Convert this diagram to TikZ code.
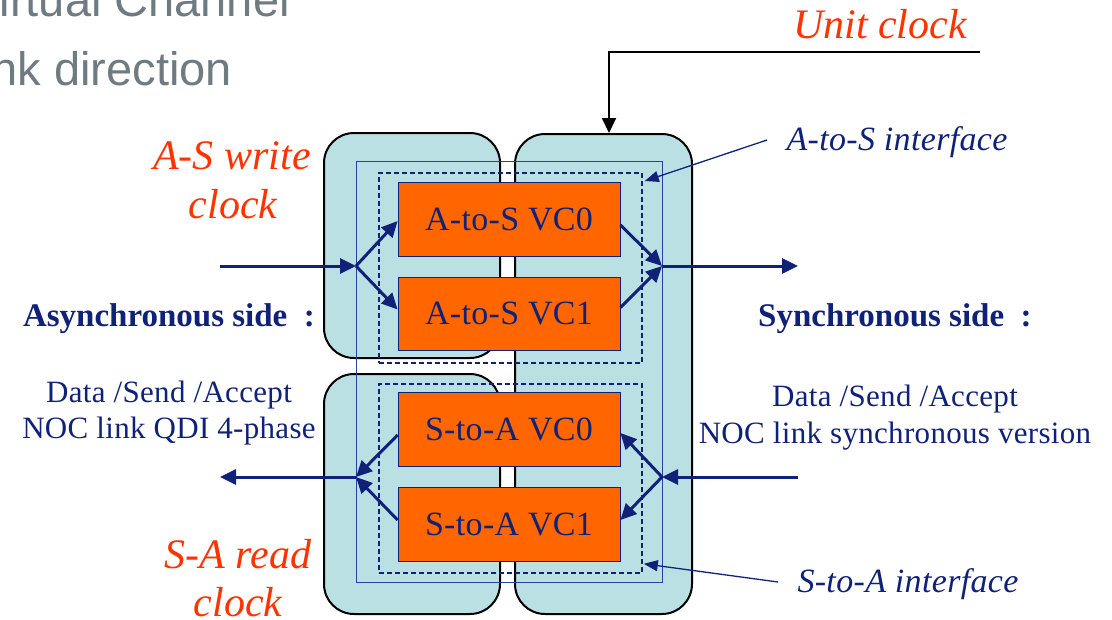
\documentclass[tikz,border=0pt]{standalone}
\usepackage{fontspec}
\setmainfont{Liberation Serif}
\newfontfamily\gsans{Liberation Sans}
\newfontfamily\lsp[LetterSpace=1]{Liberation Serif}
\usetikzlibrary{arrows.meta}
\definecolor{navy}{RGB}{16,34,120}
\definecolor{lblue}{RGB}{187,224,228}
\definecolor{vcorange}{RGB}{255,102,0}
\definecolor{clkred}{RGB}{255,51,0}
\definecolor{ttlgray}{RGB}{110,123,128}
\definecolor{thinblue}{RGB}{40,64,160}
\begin{document}
\begin{tikzpicture}[x=1pt,y=-1pt,
  clkdom/.style={draw=black,line width=2pt,fill=lblue,rounded corners=30pt,inner sep=0pt,anchor=north west},
  vcbox/.style={draw=navy,line width=0.8pt,fill=vcorange,text=navy,minimum width=222pt,inner sep=0pt,font=\lsp\fontsize{34}{34}\selectfont},
  dashbox/.style={draw=navy,line width=1.8pt,dash pattern=on 5pt off 3pt,inner sep=0pt,anchor=north west,minimum width=263pt},
  flow/.style={draw=navy,line width=3pt,-{Triangle[length=16pt,width=15pt]}},
  ptr/.style={draw=navy,line width=1.3pt,-{Triangle[length=14pt,width=11pt]}},
  clk/.style={draw=black,line width=2pt,-{Triangle[length=15pt,width=14pt]}},
  clklbl/.style={text=clkred,font=\itshape\fontsize{42}{46}\selectfont,align=center,inner sep=0pt},
  sidelbl/.style={text=navy,font=\bfseries\fontsize{33}{33}\selectfont,inner sep=0pt,anchor=base},
  linklbl/.style={text=navy,font=\lsp\fontsize{31}{36}\selectfont,align=center,inner sep=0pt},
  ifacelbl/.style={text=navy,font=\lsp\itshape\fontsize{34}{34}\selectfont,inner sep=0pt,anchor=base},
  ttl/.style={text=ttlgray,font=\gsans\fontsize{47}{47}\selectfont,inner sep=0pt}]
\useasboundingbox (0,0) rectangle (1112,619);
\clip (0,0) rectangle (1112,619);

% title fragments
\node[ttl,anchor=base east] (ttlA) at (290,16) {Virtual Channel};
\node[ttl,anchor=base west] (ttlB) at (-45,85) {Link direction};

% clock domains
\node[clkdom,minimum width=176pt,minimum height=225pt] (dA) at (323,132) {};
\node[clkdom,minimum width=177pt,minimum height=480pt] (dS) at (514,133) {};
\node[clkdom,minimum width=176pt,minimum height=240pt] (dR) at (323,373) {};

% interface outline
\node[draw=thinblue,line width=1.3pt,inner sep=0pt,anchor=north west,minimum width=306pt,minimum height=421pt] (iface) at (356,161) {};
\node[dashbox,minimum height=190pt] (dUp) at (378,172) {};
\node[dashbox,minimum height=189pt] (dLo) at (378,383) {};

% virtual channels
\node[vcbox,minimum height=74pt] (a0) at (509,219) {A-to-S VC0};
\node[vcbox,minimum height=73pt] (a1) at (509,313.5) {A-to-S VC1};
\node[vcbox,minimum height=74pt] (s0) at (509,429) {S-to-A VC0};
\node[vcbox,minimum height=74pt] (s1) at (509,524) {S-to-A VC1};

% split / join points and free ends
\coordinate (sL) at (356,266);
\coordinate (sR) at (662,266);
\coordinate (rL) at (356,477);
\coordinate (rR) at (662,477);
\coordinate (inA) at (220,266);
\coordinate (outS) at (798,266);
\coordinate (inS) at (798,477);
\coordinate (outA) at (220,477);

% A-to-S flow
\draw[flow] (inA) -- (sL);
\draw[flow] (sL) -- ([yshift=-2pt]a0.west);
\draw[flow] (sL) -- ([yshift=4pt]a1.west);
\draw[flow] ([yshift=-6pt]a0.east) -- (sR);
\draw[flow] ([yshift=6pt]a1.east) -- (sR);
\draw[flow] (sR) -- (outS);

% S-to-A flow
\draw[flow] (inS) -- (rR);
\draw[flow] (rR) -- ([yshift=-4pt]s0.east);
\draw[flow] (rR) -- ([yshift=4pt]s1.east);
\draw[flow] ([yshift=-6pt]s0.west) -- (rL);
\draw[flow] ([yshift=4pt]s1.west) -- (rL);
\draw[flow] (rL) -- (outA);

% unit clock
\coordinate (ucEnd) at (980,52);
\draw[clk] (ucEnd) -| ([xshift=5.5pt]dS.north);
\node[clklbl,anchor=base] (ucLbl) at (880,38) {Unit clock};

% clock labels
\node[clklbl,anchor=base] (wrLbl) at (232,169) {A-S write};
\node[clklbl,anchor=base] (wrLbl2) at (233,218) {clock};
\node[clklbl,anchor=base] (rdLbl) at (238,568) {S-A read};
\node[clklbl,anchor=base] (rdLbl2) at (238,616) {clock};

% side labels
\node[sidelbl] (asyncLbl) at (169,326) {Asynchronous side\ \ :};
\node[sidelbl] (syncLbl) at (895,326) {Synchronous side\ \ :};
\node[linklbl,anchor=base] (aLink1) at (169,402) {Data /Send /Accept};
\node[linklbl,anchor=base] (aLink2) at (169,438) {NOC link QDI 4-phase};
\node[linklbl,anchor=base] (sLink1) at (895,406) {Data /Send /Accept};
\node[linklbl,anchor=base] (sLink2) at (895,443) {NOC link synchronous version};

% interface labels
\node[ifacelbl] (asLbl) at (897,150) {A-to-S interface};
\node[ifacelbl] (saLbl) at (908,592) {S-to-A interface};
\coordinate (asPtr) at (767,140);
\coordinate (saPtr) at (778,582);
\draw[ptr] (asPtr) -- ([shift={(2,9)}]dUp.north east);
\draw[ptr] (saPtr) -- ([shift={(1,-10)}]dLo.south east);
\end{tikzpicture}
\end{document}
